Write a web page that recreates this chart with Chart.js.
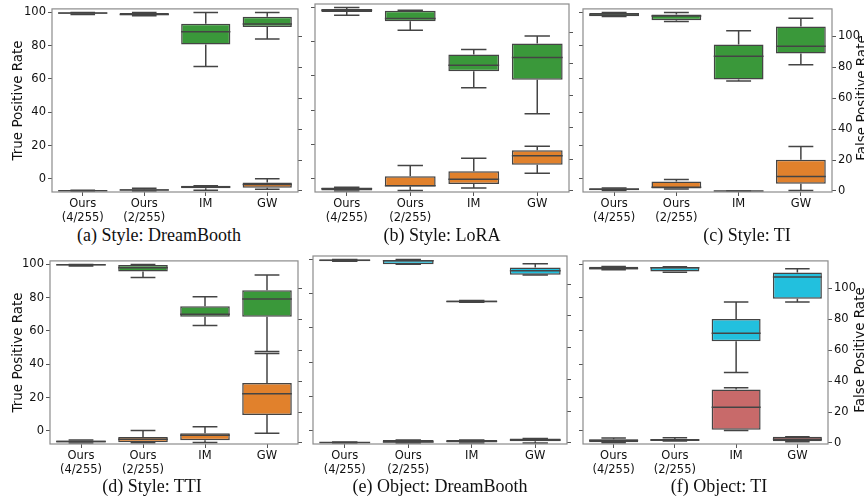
<!DOCTYPE html>
<html>
<head>
<meta charset="utf-8">
<script src="https://cdn.jsdelivr.net/npm/chart.js@4.4.1/dist/chart.umd.min.js"></script>
<style>
  body { margin: 0; background: #fff; width: 864px; height: 504px; position: relative; overflow: hidden; font-family: "DejaVu Sans", sans-serif; }
  canvas { position: absolute; }
  .cap { position: absolute; font-family: "Liberation Serif", serif; font-size: 18px; color: #111; white-space: nowrap; transform: translateX(-50%); }
  .fpr { position: absolute; font-size: 13.5px; color: #111; white-space: nowrap; transform: translate(-50%, -50%) rotate(-90deg); }
</style>
</head>
<body>
<canvas id="c0"></canvas><canvas id="c1"></canvas><canvas id="c2"></canvas>
<canvas id="c3"></canvas><canvas id="c4"></canvas><canvas id="c5"></canvas>
<div class="cap" style="left:159px;top:225px">(a) Style: DreamBooth</div>
<div class="cap" style="left:442px;top:225px">(b) Style: LoRA</div>
<div class="cap" style="left:747px;top:225px">(c) Style: TI</div>
<div class="cap" style="left:152px;top:476px">(d) Style: TTI</div>
<div class="cap" style="left:440px;top:476px">(e) Object: DreamBooth</div>
<div class="cap" style="left:719px;top:476px">(f) Object: TI</div>
<div class="fpr" style="left:861px;top:98px">False Positive Rate</div>
<div class="fpr" style="left:859px;top:350px">False Positive Rate</div>
<script>
const cats = [['Ours', '(4/255)'], ['Ours', '(2/255)'], 'IM', 'GW'];
const tprTicks = [0, 20, 40, 60, 80, 100];
const fprTicks = [0, 20, 40, 60, 80, 100];

// each box: [min, q1, median, q3, max]
const styleDreamBoothTpr = [[98.8, 99.2, 99.6, 100, 100], [98, 98.3, 98.8, 99.6, 100], [67.5, 80.7, 88.3, 93.2, 100], [84, 91.2, 93, 97.4, 100]];
const styleDreamBoothFpr = [[0, 0, 0.1, 0.3, 0.4], [0, 0.2, 0.6, 1.1, 1.7], [0.4, 1.7, 2.5, 3.4, 3.4], [1.0, 2.1, 4.2, 5.5, 7.8]];
const styleLoraTpr = [[95.5, 97.4, 98.4, 99.2, 100], [86.8, 92, 93.6, 98.2, 98.4], [53.1, 62.8, 66.3, 72.6, 75.5], [37.9, 57.8, 70.8, 79, 83.4]];
const styleLoraFpr = [[0, 0.2, 1.3, 2.1, 2.3], [0.2, 2.7, 3.2, 9.3, 16], [1.9, 4.4, 7.4, 12.4, 20.6], [11.1, 16.4, 22.2, 25.6, 28.2]];
const styleTiTpr = [[97.5, 97.7, 98.4, 99.6, 100], [94.5, 95.3, 97.8, 98.8, 100], [58.8, 59.7, 73.7, 80.7, 88.9], [68.5, 75.3, 79.6, 91.6, 96.5]];
const styleTiFpr = [[0.2, 0.4, 1, 1.7, 1.9], [1.3, 1.5, 2.3, 6.1, 7.4], [0, 0, 0, 0, 0], [0.2, 4.6, 9.4, 20.2, 28.8]];
const styleTtiTpr = [[99, 99.4, 99.8, 100, 100], [92.2, 95.7, 98, 99.6, 100], [63.3, 68.6, 70, 74.9, 80.6], [47.6, 68.6, 79.2, 84.5, 93.7]];
const styleTtiFpr = [[0, 0, 0.9, 1.5, 1.9], [0.1, 0.4, 2.3, 3.8, 8], [0.2, 1.7, 4.9, 6.3, 10.5], [6.3, 18.1, 31.8, 38.7, 57.8]];
const objDreamBoothTpr = [[99, 99, 99.6, 100, 100], [97.3, 97.3, 99.3, 99.8, 100], [75.1, 75.1, 75.5, 76, 76], [91, 91.2, 93.5, 95.3, 97.6]];
const objDreamBoothFpr = [[0, 0, 0.3, 0.6, 0.6], [0, 0, 0.5, 1.9, 1.9], [0, 0, 1.1, 1.9, 1.9], [0, 1.1, 1.9, 2.8, 2.8]];
const objTiTpr = [[96.8, 97, 97.6, 98.6, 98.8], [95.3, 95.7, 98, 98.4, 98.6], [35.1, 53.9, 58.6, 67.2, 77.4], [77.4, 79.4, 92.5, 95.1, 97.4]];
const objTiFpr = [[0.1, 0.4, 1.5, 2.3, 3.2], [1.3, 1.3, 1.9, 2.5, 3.4], [8, 8.6, 23.1, 34.5, 35.7], [0.8, 1.1, 2.3, 4, 4]];

const GREEN = '#3a983a', ORANGE = '#e1812c', CYAN = '#22c0de', RED = '#c86a6a';
const LINE = '#444444';
const TEXT = '#111111';

// layout of the six panels (canvas position + axis widths)
const panels = [
  { tpr: styleDreamBoothTpr, fpr: styleDreamBoothFpr, c: [GREEN, ORANGE], left: 0, top: 0, width: 312, lw: 52, rw: 14, col: 0 },
  { tpr: styleLoraTpr, fpr: styleLoraFpr, c: [GREEN, ORANGE], left: 300, top: 0, width: 280, lw: 15, rw: 11, col: 1 },
  { tpr: styleTiTpr, fpr: styleTiFpr, c: [GREEN, ORANGE], left: 572, top: 0, width: 292, lw: 11, rw: 32, col: 2 },
  { tpr: styleTtiTpr, fpr: styleTtiFpr, c: [GREEN, ORANGE], left: 0, top: 252, width: 312, lw: 50, rw: 14, col: 0 },
  { tpr: objDreamBoothTpr, fpr: objDreamBoothFpr, c: [CYAN, RED], left: 300, top: 252, width: 280, lw: 13, rw: 13, col: 1 },
  { tpr: objTiTpr, fpr: objTiFpr, c: [CYAN, RED], left: 572, top: 252, width: 292, lw: 11, rw: 36, col: 2 }
];
const H = 225;

// whiskers, caps, medians and the axes frame
const boxPlugin = {
  id: 'boxes',
  afterDatasetsDraw(chart) {
    const ctx = chart.ctx;
    ctx.save();
    chart.data.datasets.forEach((ds, di) => {
      const meta = chart.getDatasetMeta(di);
      const ys = chart.scales[ds.yAxisID];
      meta.data.forEach((bar, i) => {
        const [lo, q1, med, q3, hi] = ds.stats[i];
        const x = bar.x, w = bar.width, cw = w / 4;
        const p = v => ys.getPixelForValue(v);
        ctx.strokeStyle = LINE;
        ctx.lineWidth = 1.5;
        ctx.beginPath();
        ctx.moveTo(x, p(hi)); ctx.lineTo(x, p(q3));
        ctx.moveTo(x, p(q1)); ctx.lineTo(x, p(lo));
        ctx.moveTo(x - cw, p(hi)); ctx.lineTo(x + cw, p(hi));
        ctx.moveTo(x - cw, p(lo)); ctx.lineTo(x + cw, p(lo));
        ctx.stroke();
        ctx.beginPath();
        ctx.moveTo(x - w / 2, p(med)); ctx.lineTo(x + w / 2, p(med));
        ctx.stroke();
      });
    });
    const a = chart.chartArea;
    ctx.strokeStyle = '#8c8c8c';
    ctx.lineWidth = 1.2;
    ctx.strokeRect(a.left, a.top, a.right - a.left, a.bottom - a.top);
    ctx.restore();
  }
};

const tickFont = { family: 'DejaVu Sans', size: 11.5 };

panels.forEach((pn, k) => {
  const cv = document.getElementById('c' + k);
  cv.width = pn.width; cv.height = H;
  cv.style.left = pn.left + 'px'; cv.style.top = pn.top + 'px';
  new Chart(cv, {
    type: 'bar',
    data: {
      labels: cats,
      datasets: [
        { label: 'TPR', yAxisID: 'y', stats: pn.tpr, data: pn.tpr.map(s => [s[1], s[3]]),
          backgroundColor: pn.c[0], borderColor: LINE, borderWidth: 1.5, borderSkipped: false,
          grouped: false, barPercentage: 0.8, categoryPercentage: 1 },
        { label: 'FPR', yAxisID: 'y2', stats: pn.fpr, data: pn.fpr.map(s => [s[1], s[3]]),
          backgroundColor: pn.c[1], borderColor: LINE, borderWidth: 1.5, borderSkipped: false,
          grouped: false, barPercentage: 0.8, categoryPercentage: 1 }
      ]
    },
    options: {
      responsive: false,
      animation: false,
      devicePixelRatio: 1,
      layout: { padding: { top: 4, left: 0, right: 0, bottom: 0 } },
      plugins: { legend: { display: false }, tooltip: { enabled: false } },
      scales: {
        x: {
          offset: true,
          grid: { display: true, drawOnChartArea: false, offset: false, tickLength: 4, color: '#555' },
          border: { display: false },
          ticks: { font: tickFont, color: TEXT, maxRotation: 0, autoSkip: false, padding: 1 },
          afterFit: s => { s.height = H - 4 - 188; }
        },
        y: {
          position: 'left', min: -7.9, max: 102.1,
          afterBuildTicks: s => { s.ticks = tprTicks.map(v => ({ value: v })); },
          grid: { display: true, drawOnChartArea: false, tickLength: 4, color: '#555' },
          border: { display: false },
          ticks: { display: pn.col === 0, font: tickFont, color: TEXT, padding: 2 },
          title: { display: pn.col === 0, text: 'True Positive Rate', font: { family: 'DejaVu Sans', size: 13.5 }, color: TEXT, padding: { top: 10, bottom: 0 } },
          afterFit: s => { s.width = pn.lw; }
        },
        y2: {
          position: 'right', min: -0.7, max: 117.8,
          afterBuildTicks: s => { s.ticks = fprTicks.map(v => ({ value: v })); },
          grid: { display: true, drawOnChartArea: false, tickLength: 4, color: '#555' },
          border: { display: false },
          ticks: { display: pn.col === 2, font: tickFont, color: TEXT, padding: 2 },
          afterFit: s => { s.width = pn.rw; }
        }
      }
    },
    plugins: [boxPlugin]
  });
});
</script>
</body>
</html>
